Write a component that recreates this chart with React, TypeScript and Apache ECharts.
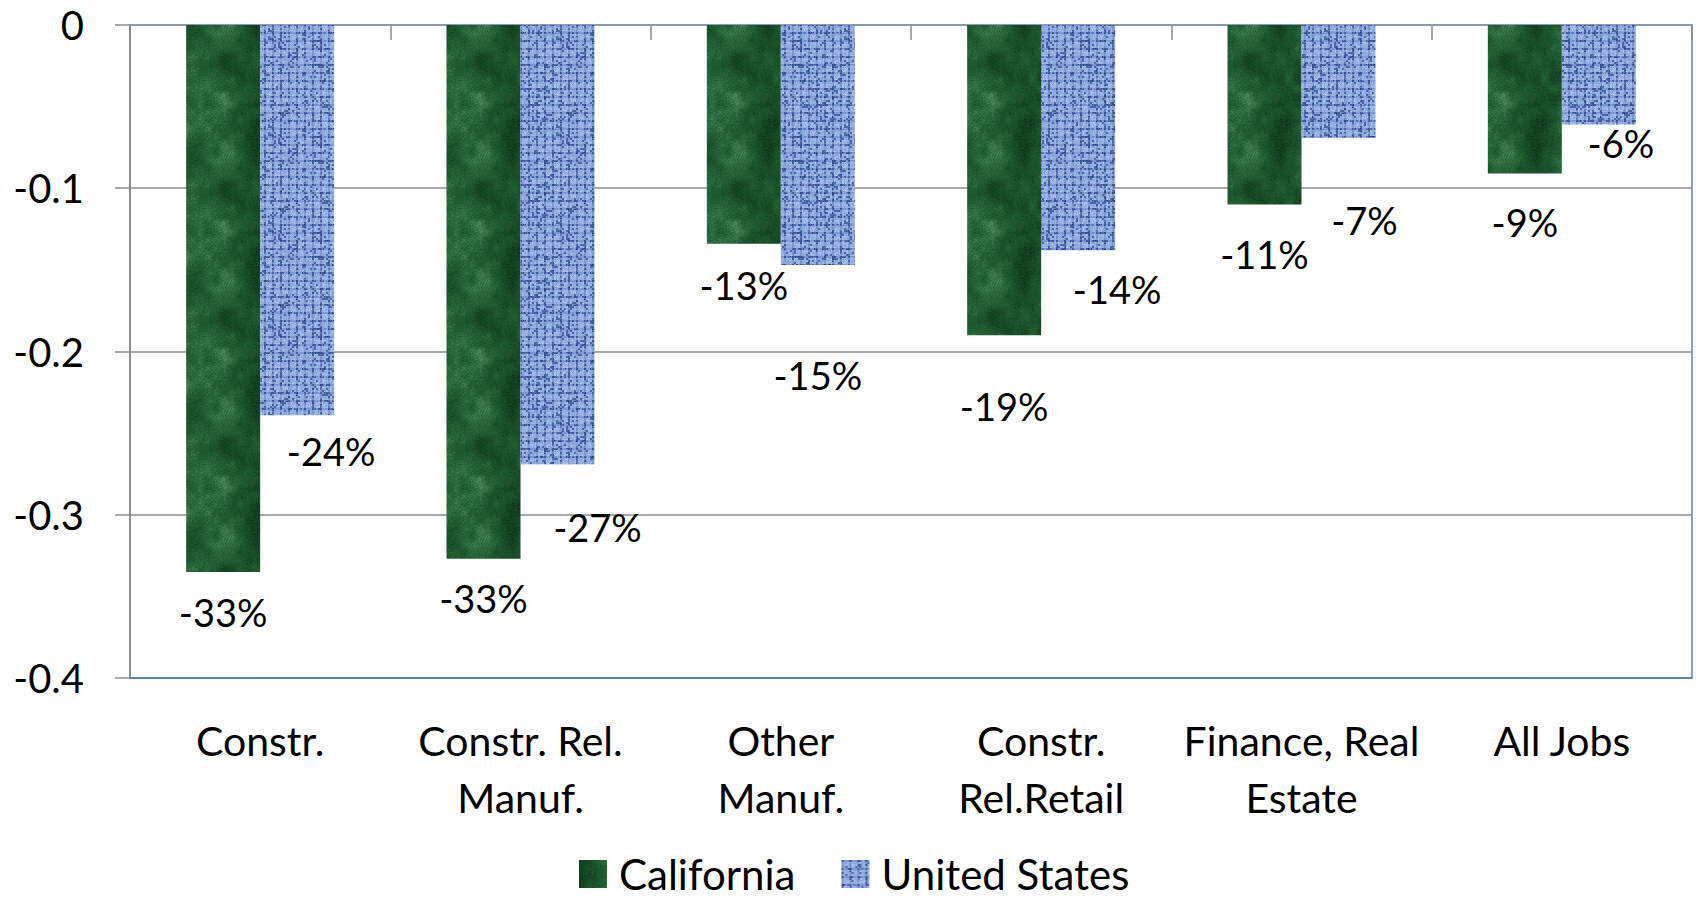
import React, { useEffect, useRef } from "react";
import * as echarts from "echarts";

const categories = [
  "Constr.",
  "Constr. Rel.\nManuf.",
  "Other\nManuf.",
  "Constr.\nRel.Retail",
  "Finance, Real\nEstate",
  "All Jobs",
];
const californiaValues = [-0.335, -0.327, -0.134, -0.19, -0.11, -0.091];
const unitedStatesValues = [-0.239, -0.269, -0.147, -0.138, -0.069, -0.061];
const yTicks = { min: -0.4, max: 0, interval: 0.1 };

// manual label placement (style only): [dx, dy]
const californiaLabelShift = [[0, 20], [0, 19], [0, 21], [0, 51], [0, 29], [0, 28]];
const unitedStatesLabelShift = [[34, 16], [40, 43], [0, 90], [39, 19], [26, 62], [22, -2]];

function hash(x: number, y: number, s: number) {
  let h = (x * 374761393 + y * 668265263 + s * 2147483647) | 0;
  h = Math.imul(h ^ (h >>> 13), 1274126177);
  h = h ^ (h >>> 16);
  return (h >>> 0) / 4294967295;
}
function smooth(x: number, y: number, cell: number, size: number, s: number) {
  const n = size / cell;
  const gx = x / cell, gy = y / cell;
  const x0 = Math.floor(gx), y0 = Math.floor(gy);
  const fx = gx - x0, fy = gy - y0;
  const sx = fx * fx * (3 - 2 * fx), sy = fy * fy * (3 - 2 * fy);
  const v = (a: number, b: number) => hash(((a % n) + n) % n, ((b % n) + n) % n, s);
  const a = v(x0, y0), b = v(x0 + 1, y0), c = v(x0, y0 + 1), d = v(x0 + 1, y0 + 1);
  return (a * (1 - sx) + b * sx) * (1 - sy) + (c * (1 - sx) + d * sx) * sy;
}
function lerp(c1: number[], c2: number[], t: number) {
  const k = Math.max(0, Math.min(1, t));
  return [0, 1, 2].map((i) => c1[i] + (c2[i] - c1[i]) * k);
}

function makeGreen() {
  const size = 128;
  const cv = document.createElement("canvas");
  cv.width = size; cv.height = size;
  const ctx = cv.getContext("2d")!;
  const img = ctx.createImageData(size, size);
  const dark = [10, 46, 22], mid = [30, 90, 48], light = [92, 156, 108];
  for (let y = 0; y < size; y++) {
    for (let x = 0; x < size; x++) {
      const v = 0.5 * smooth(x, y, 32, size, 1) + 0.3 * smooth(x, y, 8, size, 2) + 0.2 * hash(x, y, 3);
      const c = v < 0.5 ? lerp(dark, mid, v / 0.5) : lerp(mid, light, Math.pow((v - 0.5) / 0.5, 1.4));
      const i = (y * size + x) * 4;
      img.data[i] = c[0]; img.data[i + 1] = c[1]; img.data[i + 2] = c[2]; img.data[i + 3] = 255;
    }
  }
  ctx.putImageData(img, 0, 0);
  return cv;
}
function makeBlue() {
  const size = 96;
  const cv = document.createElement("canvas");
  cv.width = size; cv.height = size;
  const ctx = cv.getContext("2d")!;
  const img = ctx.createImageData(size, size);
  const navy = [40, 66, 132], mid = [108, 138, 202], light = [176, 196, 238];
  for (let y = 0; y < size; y++) {
    for (let x = 0; x < size; x++) {
      const cx = x % 8, cy = y % 8;
      const r = hash(x, y, 5);
      const r2 = hash(x >> 1, y >> 1, 9);
      let c: number[];
      if (cx <= 1 && cy <= 1) c = lerp(navy, mid, r * 0.6);
      else if (cx <= 1 || cy <= 1) c = r2 < 0.35 ? lerp(navy, mid, r) : lerp(mid, light, r * 0.5);
      else c = r2 < 0.12 ? lerp(navy, mid, 0.5) : lerp(mid, light, 0.3 + r * 0.7);
      const i = (y * size + x) * 4;
      img.data[i] = c[0]; img.data[i + 1] = c[1]; img.data[i + 2] = c[2]; img.data[i + 3] = 255;
    }
  }
  ctx.putImageData(img, 0, 0);
  return cv;
}

export default function App() {
  const ref = useRef<HTMLDivElement>(null);
  useEffect(() => {
    if (!ref.current) return;
    const chart = echarts.init(ref.current, null, { renderer: "svg" });
    const green = { image: makeGreen(), repeat: "repeat", imageWidth: 128, imageHeight: 128 };
    const blue = { image: makeBlue(), repeat: "repeat", imageWidth: 96, imageHeight: 96 };
    const font = "Lato, 'Noto Sans', sans-serif";
    const labelFor = (shift: number[][]) => (v: number, i: number) => ({
      value: v,
      label: { offset: shift[i] },
    });
    const labelStyle = {
      show: true, position: "bottom", distance: 0, fontSize: 38, lineHeight: 40, color: "#000",
      fontFamily: font, formatter: (p: any) => Math.round(p.value * 100) + "%",
    };
    chart.setOption({
      animation: false,
      textStyle: { fontFamily: font },
      grid: {
        left: 130, right: 4, top: 25, bottom: 220,
        show: true, borderColor: "#5b80c2", borderWidth: 1.5, backgroundColor: "transparent",
      },
      legend: {
        left: 574, top: 848,
        itemWidth: 28, itemHeight: 28, itemGap: 46, icon: "rect",
        textStyle: { fontSize: 42, color: "#000", fontFamily: font, padding: [0, 0, 0, 7] },
        data: ["California", "United States"],
      },
      xAxis: [
        {
          type: "category", data: categories, position: "bottom",
          axisLine: { onZero: false, lineStyle: { color: "#4f7bc0", width: 1.5 } },
          axisTick: { show: false },
          axisLabel: { fontSize: 41, color: "#000", lineHeight: 57, margin: 34, interval: 0, fontFamily: font },
        },
        {
          type: "category", data: categories, position: "top",
          axisLine: { onZero: false, lineStyle: { color: "#8d9ab3", width: 2 } },
          axisTick: { show: true, inside: true, length: 15, lineStyle: { color: "#8c8c8c", width: 1.5 } },
          axisLabel: { show: false },
        },
      ],
      yAxis: {
        type: "value", min: yTicks.min, max: yTicks.max, interval: yTicks.interval,
        axisLine: { show: true, lineStyle: { color: "#8c8c8c", width: 1.5 } },
        axisTick: { show: true, length: 15, lineStyle: { color: "#8c8c8c", width: 1.5 } },
        splitLine: { lineStyle: { color: "#8c8c8c", width: 1.5 } },
        axisLabel: { fontSize: 40, color: "#000", margin: 46, fontFamily: font },
      },
      series: [
        {
          name: "California", type: "bar", xAxisIndex: 0,
          data: californiaValues.map(labelFor(californiaLabelShift)),
          barWidth: 74, barGap: "0%",
          itemStyle: { color: green },
          label: labelStyle,
        },
        {
          name: "United States", type: "bar", xAxisIndex: 0,
          data: unitedStatesValues.map(labelFor(unitedStatesLabelShift)),
          barWidth: 74, barGap: "0%",
          itemStyle: { color: blue },
          label: labelStyle,
        },
      ],
    });
    return () => chart.dispose();
  }, []);
  return <div ref={ref} style={{ position: "absolute", left: 0, top: 0, width: 1696, height: 898 }} />;
}
